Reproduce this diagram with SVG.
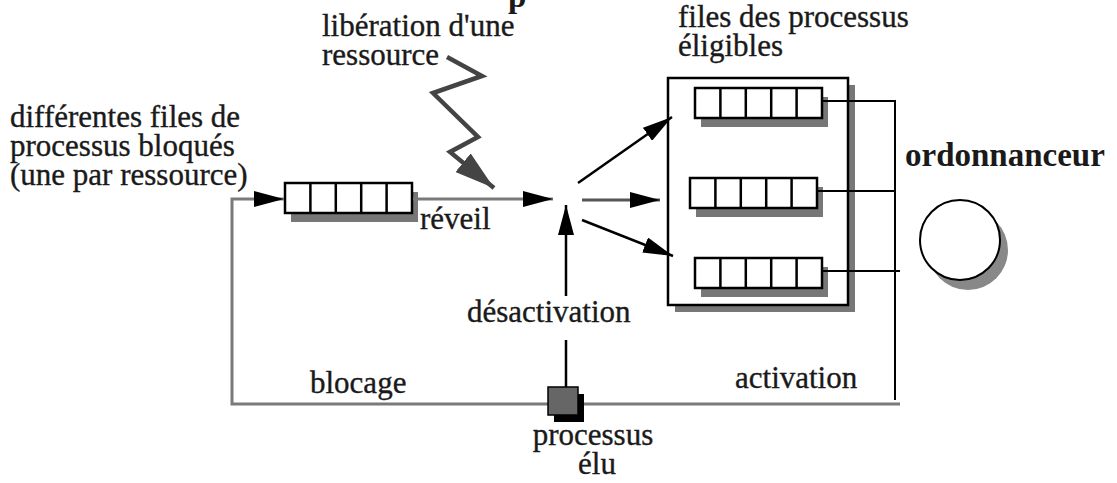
<svg xmlns="http://www.w3.org/2000/svg" width="1117" height="483" viewBox="0 0 1117 483">
<style>
text { font-family: "Liberation Serif", "Times New Roman", serif; font-size: 31px; fill: #1a1a1a; stroke: #1a1a1a; stroke-width: 0.35; }
.bold { font-weight: bold; font-size: 33px; stroke-width: 0; }
.gray { stroke: #7a7a7a; stroke-width: 3; fill: none; }
.dark { stroke: #555; stroke-width: 3; fill: none; }
.blk { stroke: #000; stroke-width: 2.5; fill: none; }
.thin { stroke: #000; stroke-width: 2; fill: none; }
</style>
<defs>
<marker id="ah" markerUnits="userSpaceOnUse" markerWidth="32" markerHeight="16" refX="30" refY="8" orient="auto"><path d="M0,0 L30,8 L0,16 Z" fill="#000"/></marker>
<marker id="boltHead" markerUnits="userSpaceOnUse" markerWidth="42" markerHeight="24" refX="40" refY="12" orient="auto"><path d="M0,0 L40,12 L0,24 Z" fill="#444"/></marker>
<g id="queue">
<rect x="6" y="9" width="127" height="30" fill="#777"/>
<rect x="0" y="0" width="127" height="30" fill="#fff" stroke="#000" stroke-width="2.5"/>
<path d="M25.4,0 V30 M50.8,0 V30 M76.2,0 V30 M101.6,0 V30" stroke="#000" stroke-width="2.5"/>
</g>
</defs>
<rect width="1117" height="483" fill="#fff"/>

<g id="title-fragment"><text class="bold" x="508" y="7">p</text></g>

<g id="labels">
<text x="10" y="127">différentes files de</text>
<text x="10" y="156">processus bloqués</text>
<text x="10" y="185">(une par ressource)</text>
<text x="322" y="36">libération d'une</text>
<text x="322" y="65">ressource</text>
<text x="420" y="229">réveil</text>
<text x="467" y="322">désactivation</text>
<text x="310" y="393">blocage</text>
<text x="735" y="388">activation</text>
</g>

<g id="blocked-queue"><use href="#queue" x="285" y="183"/></g>

<g id="eligible-queues">
<text x="678" y="27">files des processus</text>
<text x="678" y="56">éligibles</text>
<rect x="675" y="85" width="180" height="227" fill="#777"/>
<rect x="668" y="78" width="180" height="227" fill="#fff" stroke="#000" stroke-width="2.5"/>
<use href="#queue" x="695" y="88"/>
<use href="#queue" x="690" y="178"/>
<use href="#queue" x="695" y="258"/>
</g>

<g id="ordonnanceur">
<text class="bold" x="905" y="166">ordonnanceur</text>
<circle cx="968" cy="250" r="40" fill="#888"/>
<circle cx="960" cy="240" r="40" fill="#fff" stroke="#000" stroke-width="2"/>
</g>

<g id="connectors">
<path class="gray" d="M900,404 L232,404 L232,199 L284,199" marker-end="url(#ah)"/>
<path class="gray" d="M413,199 L553,199" marker-end="url(#ah)"/>
<path d="M447,57 L482,76 L433,93 L478,137 L450,152 L494,188" stroke="#444" stroke-width="4.5" fill="none" stroke-linejoin="miter" marker-end="url(#boltHead)"/>
<path class="dark" d="M582,200 L660,200" marker-end="url(#ah)"/>
<path class="blk" d="M578,183 L672,117" marker-end="url(#ah)"/>
<path class="blk" d="M582,220 L673,256" marker-end="url(#ah)"/>
<path class="blk" d="M566,387 L566,340"/>
<path class="blk" d="M566,296 L566,205" marker-end="url(#ah)"/>
<path class="thin" d="M822,101 L895,101 L895,400"/>
<path class="thin" d="M817,191 L895,191"/>
<path class="thin" d="M822,271 L900,271"/>
</g>

<g id="processus-elu">
<rect x="554" y="394" width="30" height="28" fill="#000"/>
<rect x="548" y="387" width="30" height="28" fill="#666" stroke="#000" stroke-width="1.5"/>
<text x="593" y="445" text-anchor="middle">processus</text>
<text x="597" y="474" text-anchor="middle">élu</text>
</g>
</svg>
